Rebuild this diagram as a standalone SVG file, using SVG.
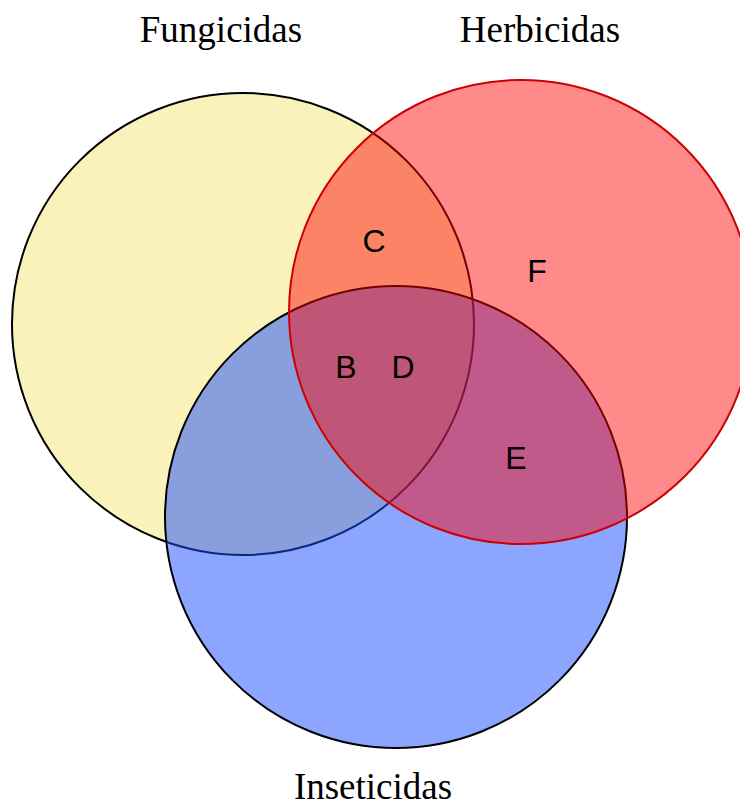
<svg xmlns="http://www.w3.org/2000/svg" width="740" height="804" viewBox="0 0 740 804">
<style>
.set{stroke-width:2}
.title{font-family:"Liberation Serif",serif;font-size:37px;fill:#000;text-anchor:middle}
.lbl{font-family:"Liberation Sans",sans-serif;font-size:32px;fill:#000;text-anchor:middle}
</style>
<rect width="740" height="804" fill="#fff"/>
<g id="fungicidas">
<circle class="set" cx="243" cy="324" r="231" fill="#f9f2bb" stroke="#000"/>
</g>
<g id="inseticidas">
<circle class="set" cx="396" cy="517" r="231" fill="#1a4cff" fill-opacity="0.5" stroke="#000"/>
</g>
<g id="herbicidas">
<circle class="set" cx="521" cy="312" r="232" fill="#ff0000" fill-opacity="0.46" stroke="#cc0000"/>
</g>
<g id="titles">
<text class="title" x="221" y="42">Fungicidas</text>
<text class="title" x="540" y="42">Herbicidas</text>
<text class="title" x="373" y="799">Inseticidas</text>
</g>
<g id="regions">
<text class="lbl" x="374" y="252">C</text>
<text class="lbl" x="537" y="282">F</text>
<text class="lbl" x="346" y="378">B</text>
<text class="lbl" x="403" y="378">D</text>
<text class="lbl" x="516" y="469">E</text>
</g>
</svg>
